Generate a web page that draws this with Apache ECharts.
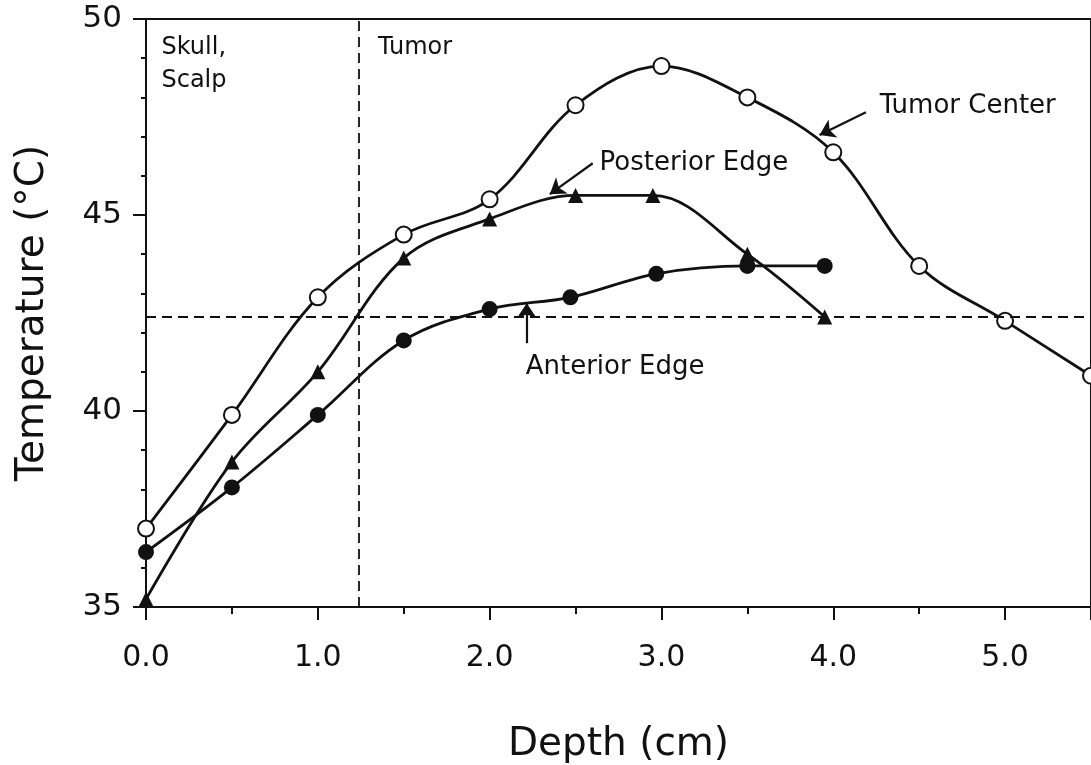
<!DOCTYPE html>
<html>
<head>
<meta charset="utf-8">
<script src="https://cdn.jsdelivr.net/npm/echarts@6/dist/echarts.min.js"></script>
<style>
  html, body { margin: 0; padding: 0; background: #fff; }
  #chart { width: 1091px; height: 765px; }
</style>
</head>
<body>
<div id="chart"></div>
<script>
// depth (cm) and temperature (C)
var centerDepth = [0, 0.5, 1.0, 1.5, 2.0, 2.5, 3.0, 3.5, 4.0, 4.5, 5.0, 5.5]
var centerTemp = [37.0, 39.9, 42.9, 44.5, 45.4, 47.8, 48.8, 48.0, 46.6, 43.7, 42.3, 40.9]
var posteriorDepth = [0, 0.5, 1.0, 1.5, 2.0, 2.5, 2.95, 3.5, 3.95]
var posteriorTemp = [35.2, 38.7, 41.0, 43.9, 44.9, 45.5, 45.5, 44.0, 42.4]
var anteriorDepth = [0, 0.5, 1.0, 1.5, 2.0, 2.47, 2.97, 3.5, 3.95]
var anteriorTemp = [36.4, 38.05, 39.9, 41.8, 42.6, 42.9, 43.5, 43.7, 43.7]

// dashed reference lines
var boundaryDepth = 1.24
var thresholdTemp = 42.4

// text notes: [text, depth, temp, font size] (left-middle anchor)
var notes = [
  ['Skull,', 0.09, 49.26, 24],
  ['Scalp', 0.09, 48.42, 24],
  ['Tumor', 1.35, 49.26, 24],
  ['Tumor Center', 4.27, 47.78, 26],
  ['Posterior Edge', 2.64, 46.31, 26],
  ['Anterior Edge', 2.21, 41.12, 26]
]
// arrows: [fromDepth, fromTemp, toDepth, toTemp]
var arrows = [
  [4.19, 47.62, 3.92, 47.04],
  [2.60, 46.32, 2.35, 45.53],
  [2.216, 41.73, 2.216, 42.75]
]

function pairs (xs, ys) {
  return xs.map(function (x, i) { return [x, ys[i]] })
}

var FONT = 'DejaVu Sans'
var chart = echarts.init(document.getElementById('chart'))

var option = {
  animation: false,
  backgroundColor: '#fff',
  grid: {
    left: 146,
    right: 0,
    top: 19,
    bottom: 158,
    show: true,
    borderColor: '#111',
    borderWidth: 2,
    outerBoundsMode: 'none'
  },
  xAxis: {
    type: 'value',
    min: 0,
    max: 5.5,
    interval: 1,
    name: 'Depth (cm)',
    nameLocation: 'middle',
    nameGap: 118,
    nameTextStyle: { fontFamily: FONT, fontSize: 39, color: '#111' },
    axisLine: { lineStyle: { color: '#111', width: 2 } },
    axisTick: { length: 13, lineStyle: { color: '#111', width: 2 } },
    minorTick: { show: true, splitNumber: 2, length: 7, lineStyle: { color: '#111', width: 2 } },
    axisLabel: {
      margin: 36,
      fontFamily: FONT,
      fontSize: 30,
      color: '#111',
      formatter: function (v) { return v % 1 === 0 ? v.toFixed(1) : '' }
    },
    splitLine: { show: false }
  },
  yAxis: {
    type: 'value',
    min: 35,
    max: 50,
    interval: 5,
    name: 'Temperature (°C)',
    nameLocation: 'middle',
    nameGap: 94,
    nameTextStyle: { fontFamily: FONT, fontSize: 39, color: '#111' },
    axisLine: { lineStyle: { color: '#111', width: 2 } },
    axisTick: { length: 13, lineStyle: { color: '#111', width: 2 } },
    minorTick: { show: true, splitNumber: 5, length: 5, lineStyle: { color: '#111', width: 2 } },
    axisLabel: { margin: 24, fontFamily: FONT, fontSize: 31, color: '#111' },
    splitLine: { show: false }
  },
  series: [
    {
      name: 'Tumor Center',
      type: 'line',
      smooth: 0.35,
      data: pairs(centerDepth, centerTemp),
      symbol: 'circle',
      symbolSize: 16,
      lineStyle: { color: '#111', width: 2.8 },
      itemStyle: { color: '#fff', borderColor: '#111', borderWidth: 2 },
      z: 3,
      markLine: {
        silent: true,
        symbol: 'none',
        label: { show: false },
        lineStyle: { type: [10, 6], color: '#111', width: 1.8 },
        data: [{ xAxis: boundaryDepth }, { yAxis: thresholdTemp }]
      }
    },
    {
      name: 'Posterior Edge',
      type: 'line',
      smooth: 0.35,
      data: pairs(posteriorDepth, posteriorTemp),
      symbol: 'triangle',
      symbolSize: 15,
      lineStyle: { color: '#111', width: 2.8 },
      itemStyle: { color: '#111' },
      z: 2
    },
    {
      name: 'Anterior Edge',
      type: 'line',
      smooth: 0.35,
      data: pairs(anteriorDepth, anteriorTemp),
      symbol: 'circle',
      symbolSize: 16,
      lineStyle: { color: '#111', width: 2.8 },
      itemStyle: { color: '#111' },
      z: 2
    },
    {
      name: 'arrows',
      type: 'line',
      data: [],
      markLine: {
        silent: true,
        label: { show: false },
        symbolSize: 15,
        lineStyle: { type: 'solid', color: '#111', width: 2.2 },
        data: arrows.map(function (a) {
          return [
            { coord: [a[0], a[1]], symbol: 'none' },
            { coord: [a[2], a[3]], symbol: 'arrow' }
          ]
        })
      }
    }
  ]
}

chart.setOption(option)

// place the text notes through the axes
chart.setOption({
  graphic: notes.map(function (n) {
    var p = chart.convertToPixel({ gridIndex: 0 }, [n[1], n[2]])
    return {
      type: 'text',
      x: p[0],
      y: p[1],
      silent: true,
      style: {
        text: n[0],
        fill: '#111',
        font: n[3] + 'px "' + FONT + '"',
        align: 'left',
        verticalAlign: 'middle'
      }
    }
  })
})
</script>
</body>
</html>
